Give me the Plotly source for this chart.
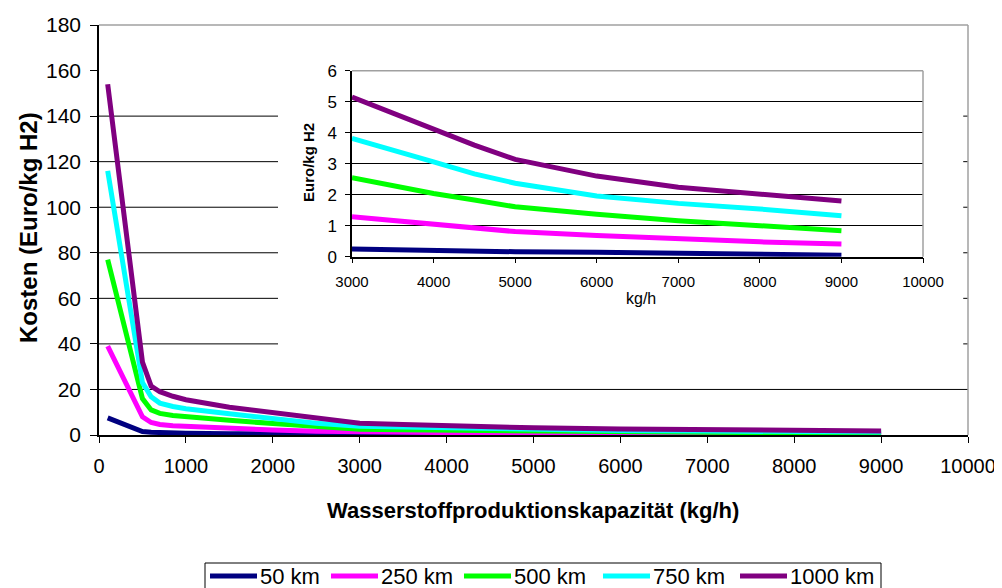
import plotly.graph_objects as go

# ---- data ----
capacity = [100, 500, 600, 700, 850, 1000, 1500, 2000, 2500, 3000, 3500, 4000, 4500, 5000, 6000, 7000, 8000, 9000]
series_names = ["50 km", "250 km", "500 km", "750 km", "1000 km"]
cost_50 = [7.5, 1.5, 1.2, 1.05, 0.9, 0.75, 0.55, 0.4, 0.32, 0.25, 0.22, 0.2, 0.18, 0.16, 0.14, 0.11, 0.08, 0.05]
cost_250 = [39, 8, 5.5, 4.6, 4.1, 3.8, 2.9, 2.2, 1.6, 1.29, 1.18, 1.06, 0.92, 0.81, 0.68, 0.56, 0.48, 0.41]
cost_500 = [77, 16, 11, 9.5, 8.6, 8, 6.5, 5, 3.8, 2.55, 2.28, 2.04, 1.83, 1.61, 1.37, 1.16, 1.0, 0.84]
cost_750 = [116, 23, 16.8, 14, 12.5, 11.5, 9.3, 7.2, 5.2, 3.82, 3.42, 3.06, 2.67, 2.37, 1.96, 1.72, 1.54, 1.32]
cost_1000 = [154, 32, 21.5, 19, 17, 15.5, 12.2, 9.8, 7.4, 5.15, 4.62, 4.09, 3.6, 3.14, 2.6, 2.24, 2.02, 1.8]
colors = ["#000080", "#FF00FF", "#00FF00", "#00FFFF", "#800080"]

main_yticks = list(range(0, 181, 20))
main_xticks = list(range(0, 10001, 1000))
main_xlabels = [str(v) for v in main_xticks]
inset_xticks = list(range(3000, 10001, 1000))
inset_xlabels = [str(v) for v in inset_xticks]
inset_yticks = list(range(0, 7))
inset_start = 3000

# the page has an 8px body margin; figure sized so it fits the 1002x588 window
OFF = 8
W, H = 1002 - OFF, 588 - OFF
def px(x):
    return (x - OFF) / W
def py(y):
    return (H - (y - OFF)) / H

FONT = "Liberation Sans, Arial, sans-serif"
fig = go.Figure()
all_series = [cost_50, cost_250, cost_500, cost_750, cost_1000]

for name, vals, col in zip(series_names, all_series, colors):
    fig.add_trace(go.Scatter(x=capacity, y=vals, mode="lines", name=name, showlegend=False,
                             line=dict(color=col, width=5), xaxis="x", yaxis="y"))

for name, vals, col in zip(series_names, all_series, colors):
    xs = [c for c in capacity if c >= inset_start]
    ys = [v for c, v in zip(capacity, vals) if c >= inset_start]
    fig.add_trace(go.Scatter(x=xs, y=ys, mode="lines", name=name, showlegend=False,
                             line=dict(color=col, width=5), xaxis="x2", yaxis="y2"))

shapes = []
# main gridlines (partly hidden behind inset chart area in the original)
shapes.append(dict(type="line", xref="x", yref="y", x0=0, x1=10000, y0=20, y1=20,
                   line=dict(color="black", width=1), layer="below"))
for v in main_yticks[2:8]:
    shapes.append(dict(type="line", xref="x", yref="y", x0=0, x1=2060, y0=v, y1=v,
                       line=dict(color="black", width=1), layer="below"))
    shapes.append(dict(type="line", xref="x", yref="y", x0=9945, x1=10000, y0=v, y1=v,
                       line=dict(color="black", width=1), layer="below"))
# main top/right borders (gray)
shapes.append(dict(type="line", xref="x domain", yref="y domain", x0=0, x1=1, y0=1, y1=1,
                   line=dict(color="#a0a0a0", width=1.5)))
shapes.append(dict(type="line", xref="x domain", yref="y domain", x0=1, x1=1, y0=0, y1=1,
                   line=dict(color="#a0a0a0", width=1.5)))
# inset top/right borders (gray)
shapes.append(dict(type="line", xref="x2 domain", yref="y2 domain", x0=0, x1=1, y0=1, y1=1,
                   line=dict(color="#a0a0a0", width=1.5)))
shapes.append(dict(type="line", xref="x2 domain", yref="y2 domain", x0=1, x1=1, y0=0, y1=1,
                   line=dict(color="#a0a0a0", width=1.5)))

annotations = [
    dict(text="<b>Kosten (Euro/kg H2)</b>", x=px(28), y=py(228), xref="paper", yref="paper",
         xanchor="center", yanchor="middle",
         showarrow=False, textangle=-90, font=dict(family=FONT, size=24, color="black")),
    dict(text="<b>Wasserstoffproduktionskapazität (kg/h)</b>", x=px(533), y=py(510),
         xanchor="center", yanchor="middle",
         xref="paper", yref="paper", showarrow=False, font=dict(family=FONT, size=22, color="black")),
    dict(text="<b>Euro/kg H2</b>", x=px(308), y=py(163), xref="paper", yref="paper",
         xanchor="center", yanchor="middle",
         showarrow=False, textangle=-90, font=dict(family=FONT, size=15, color="black")),
    dict(text="kg/h", x=px(641), y=py(298), xref="paper", yref="paper",
         xanchor="center", yanchor="middle",
         showarrow=False, font=dict(family=FONT, size=16, color="black")),
]

# ---- legend box (bottom, partly cut off by the page edge as in the reference) ----
LEG_LEFT, LEG_RIGHT, LEG_TOP, LEG_ROW = 205, 881, 563, 576
sample_starts = [210, 331, 464, 603, 740]
SAMPLE_LEN = 47
shapes.append(dict(type="rect", xref="paper", yref="paper",
                   x0=px(LEG_LEFT), x1=px(LEG_RIGHT), y0=py(600), y1=py(LEG_TOP),
                   line=dict(color="black", width=1), fillcolor="white", layer="above"))
for name, col, s in zip(series_names, colors, sample_starts):
    shapes.append(dict(type="line", xref="paper", yref="paper",
                       x0=px(s), x1=px(s + SAMPLE_LEN), y0=py(LEG_ROW), y1=py(LEG_ROW),
                       line=dict(color=col, width=5), layer="above"))
    annotations.append(dict(text=name, x=px(s + SAMPLE_LEN + 1), y=py(LEG_ROW),
                            xref="paper", yref="paper", xanchor="left", yanchor="middle",
                            showarrow=False, font=dict(family=FONT, size=22, color="black")))

fig.update_layout(
    width=W, height=H,
    margin=dict(l=0, r=0, t=0, b=0, autoexpand=False),
    paper_bgcolor="white", plot_bgcolor="rgba(0,0,0,0)",
    font=dict(family=FONT, color="black"),
    showlegend=False,
    xaxis=dict(domain=[px(99), px(968)], range=[0, 10000], tickvals=main_xticks, ticktext=main_xlabels,
               showgrid=False, zeroline=False, showline=True, linecolor="black", linewidth=1.5,
               ticks="outside", ticklen=6, tickcolor="black", tickwidth=1,
               tickfont=dict(family=FONT, size=20), ticklabelstandoff=6, automargin=False,
               anchor="y", fixedrange=True),
    yaxis=dict(domain=[py(435), py(25)], range=[0, 180], tickvals=main_yticks,
               showgrid=False, zeroline=False, showline=True, linecolor="black", linewidth=1.5,
               ticks="outside", ticklen=7, tickcolor="black", tickwidth=1,
               tickfont=dict(family=FONT, size=21), ticklabelstandoff=5, automargin=False,
               anchor="x"),
    xaxis2=dict(domain=[px(352), px(923)], range=[3000, 10000], tickvals=inset_xticks, ticktext=inset_xlabels,
                showgrid=False, zeroline=False, showline=True, linecolor="black", linewidth=1.5,
                ticks="outside", ticklen=5, tickcolor="black",
                tickfont=dict(family=FONT, size=15), ticklabelstandoff=6, automargin=False,
                anchor="y2"),
    yaxis2=dict(domain=[py(256.7), py(70.7)], range=[0, 6], tickvals=inset_yticks,
                showgrid=True, gridcolor="black", gridwidth=1, zeroline=False,
                showline=True, linecolor="black", linewidth=1.5,
                ticks="outside", ticklen=5, tickcolor="black",
                tickfont=dict(family=FONT, size=17), ticklabelstandoff=5, automargin=False,
                anchor="x2"),
    shapes=shapes, annotations=annotations,
)

fig.write_html("out.html")
